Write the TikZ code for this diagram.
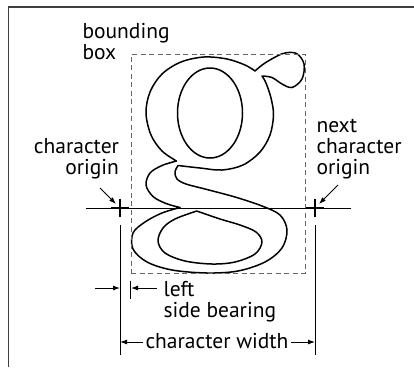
\documentclass[tikz,border=0pt]{standalone}
\usepackage{fontspec}
\setmainfont{PT Sans}
\usetikzlibrary{arrows.meta,positioning}

\begin{document}
\begin{tikzpicture}[x=1pt,y=-1pt,>={Latex[length=7pt,width=5pt]},line width=1pt,
    every node/.append style={align=left,inner sep=0pt,font=\fontsize{21.5}{21}\selectfont},
    frame/.style={draw=black!75,line width=1.5pt},
    bbox/.style={draw=black!60,dash pattern=on 5pt off 3.5pt,line width=1pt},
    glyph/.style={line width=1.5pt,line join=round},
    cross/.style={line width=1.6pt},
    dim/.style={line width=0.9pt}]
    \useasboundingbox (0,0) rectangle (414,367);
    \draw[frame] (8.5,367) |- (414,7);

    % the g
    \draw[glyph] plot[smooth,tension=.55] coordinates {(262,76) (266,83) (271,98) (273.5,115) (270,135) (260,152) (243,165) (222,170) (200,168) (178,165.5)}
      -- plot[smooth,tension=.55] coordinates {(178,165.5) (175,172) (177,179) (186,184) (205,189) (235,197) (262,206) (280,215) (287,230) (282,248) (265,262) (238,271) (207,273) (172,270) (147,262) (133,249) (133,233) (145,222) (162,213) (180,207.5)}
      -- plot[smooth,tension=.55] coordinates {(180,207.5) (166,203.5) (153,196.5) (146,185) (150,173) (162,165.5) (176.5,161)}
      -- plot[smooth,tension=.55] coordinates {(176.5,161) (162,151) (151,135) (146,113) (150,92) (162,74) (181,62) (204,57) (227,59) (245,65) (255,71)}
      -- plot[smooth,tension=.55] coordinates {(255,71) (265,63) (283,53.5) (296.5,53.5) (304,64) (302,79) (292,87.5) (282,84) (272,77.5) (262,76)}
      -- cycle;
    \draw[glyph] (210,113) ellipse [x radius=32.5,y radius=45];
    \draw[glyph] plot[smooth,tension=.55] coordinates {(196.7,211) (220,219) (240,225) (256,232) (262,242) (255,254) (235,262) (212,264) (185,261) (165,253) (158,241) (163,228) (175,219) (196.7,211)} -- cycle;

    \node[bbox,minimum width=174pt,minimum height=219pt] (bb) at (218,163.5) {};

    % origins and baseline
    \coordinate (o1) at (120,208);
    \coordinate (o2) at (315,208);
    \draw ([xshift=-34pt]o1) -- ([xshift=36pt]o2);
    \foreach \o in {o1,o2} {
        \draw[cross] ([xshift=-9pt]\o) -- ([xshift=9pt]\o) ([yshift=9pt]\o) -- ([yshift=-9pt]\o);
        \draw[dim] ([yshift=-17pt]\o) -- ([yshift=-147pt]\o);
    }

    % labels (base = last line)
    \node[anchor=base west] (bound) at (82,59.5) {bounding\\box};
    \node[anchor=base east,align=right] (corig) at (119.5,174) {character\\origin};
    \node[anchor=base west] (norig) at (316,174) {next\\character\\origin};
    \node[anchor=base west] (lsb) at (163,317) {left\\side bearing};
    \node[anchor=base] (cw) at (217,348) {character width};

    \coordinate (a1) at (100,188);
    \coordinate (a2) at (338,185);
    \draw[->] (a1) -- ([shift={(-4pt,4pt)}]o1);
    \draw[->] (a2) -- ([shift={(4pt,4pt)}]o2);

    % side bearing
    \coordinate (sb) at (131,288);
    \draw[dim] ([yshift=-7pt]bb.south west) -- ([yshift=-25pt]bb.south west);
    \draw[dim,->] (sb -| 95,0) -- (sb -| o1);
    \draw[dim,->] (sb -| 157,0) -- (sb);

    % character width
    \draw[dim,->] ([xshift=-2pt,yshift=6pt]cw.base west) -- ([yshift=6pt]cw.base west -| o1);
    \draw[dim,->] ([xshift=2pt,yshift=6pt]cw.base east) -- ([yshift=6pt]cw.base east -| o2);
\end{tikzpicture}
\end{document}
